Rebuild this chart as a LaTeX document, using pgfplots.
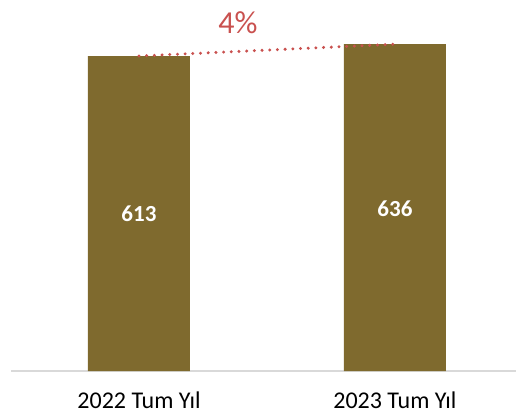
\documentclass[border=0pt]{standalone}
\usepackage{pgfplots}
\pgfplotsset{compat=1.18}
\usepackage{fontspec}
\setmainfont{Carlito}
\definecolor{barcol}{HTML}{7F6A2E}
\definecolor{linecol}{HTML}{C9514F}
\definecolor{axcol}{HTML}{D9D9D9}
\begin{document}
\begin{tikzpicture}
\useasboundingbox (-11bp,-42bp) rectangle (505bp,371bp);
\begin{axis}[
  scale only axis,
  width=505bp, height=371bp,
  xmin=-0.5, xmax=1.473,
  ymin=0, ymax=722,
  axis x line*=bottom,
  axis y line=none,
  x axis line style={draw=axcol, line width=2bp, -},
  xtick={0,1},
  xticklabels={2022 Tum Yıl, 2023 Tum Yıl},
  major tick length=0pt,
  xticklabel style={font=\fontsize{24bp}{28bp}\selectfont, anchor=base, yshift=-37bp, text=black},
  ytick=\empty,
  clip=false,
]
\addplot[ybar, bar width=102bp, fill=barcol, draw=none, bar shift=0pt] coordinates {(0,613) (1,636)};
\addplot[linecol, line width=3.3bp, line cap=round, dash pattern=on 0pt off 7.7bp] coordinates {(0,613) (1,636)};
\node[text=white, font=\bfseries\fontsize{23bp}{26bp}\selectfont] at (axis cs:0,306.5) {613};
\node[text=white, font=\bfseries\fontsize{23bp}{26bp}\selectfont] at (axis cs:1,316) {636};
\node[text=linecol, font=\fontsize{32bp}{36bp}\selectfont] at (axis cs:0.387,678) {4\%};
\end{axis}
\end{tikzpicture}
\end{document}
